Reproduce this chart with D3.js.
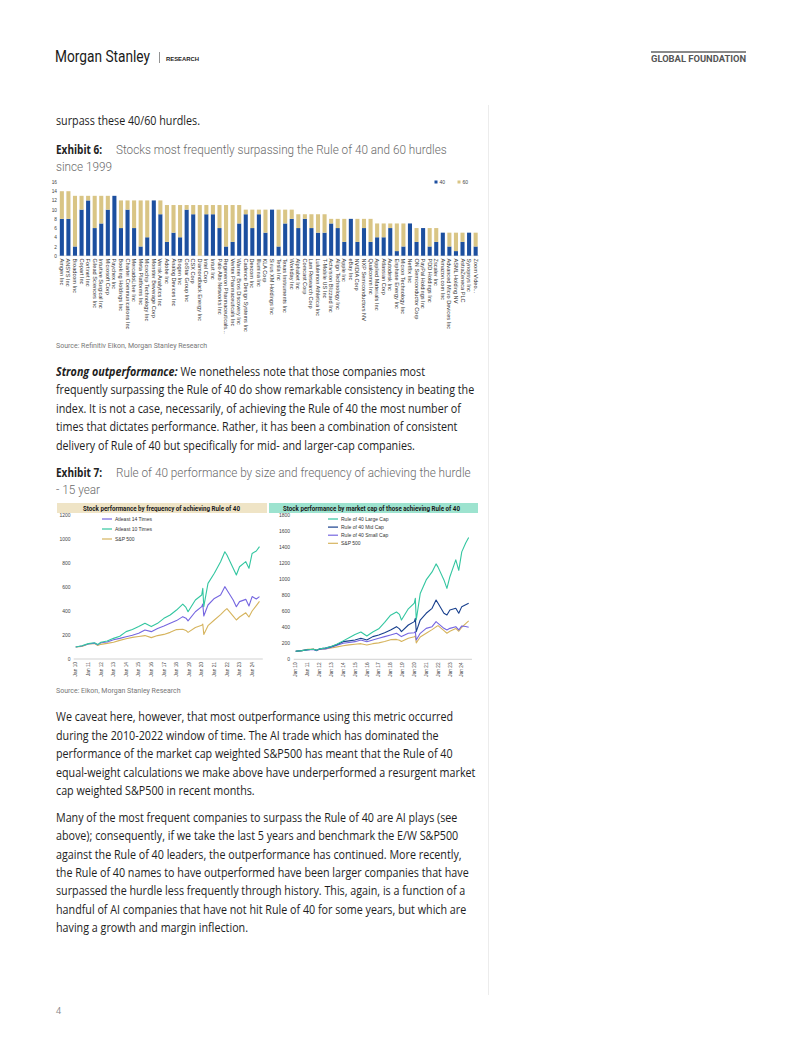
<!DOCTYPE html>
<html><head><meta charset="utf-8">
<script src="https://cdn.jsdelivr.net/npm/d3@7"></script>
<style>body{margin:0;background:#fff}svg{display:block}</style>
</head><body><svg id="c" width="802" height="1037"></svg>
<script>
// ---------- DATA ----------
const companies = ["Amgen Inc","ANSYS Inc","Broadcom Inc","Copart Inc","Fortinet Inc","Gilead Sciences Inc","Intuitive Surgical Inc","Microsoft Corp","Paychex Inc","Booking Holdings Inc","Charter Communications Inc","MercadoLibre Inc","Meta Platforms Inc","Microchip Technology Inc","Monster Beverage Corp","Verisk Analytics Inc","Adobe Inc","Analog Devices Inc","Biogen Inc","CoStar Group Inc","CSX Corp","Diamondback Energy Inc","Intel Corp","Intuit Inc","Palo Alto Networks Inc","Regeneron Pharmaceuticals...","Vertex Pharmaceuticals Inc","Warner Bros Discovery Inc","Cadence Design Systems Inc","Dexcom Inc","Illumina Inc","KLA Corp","Sirius XM Holdings Inc","Tesla Inc","Texas Instruments Inc","Workday Inc","Alphabet Inc","Comcast Corp","Lam Research Corp","Lululemon Athletica Inc","T-Mobile US Inc","Activision Blizzard Inc","Align Technology Inc","Apple Inc","eBay Inc","NVIDIA Corp","NXP Semiconductors NV","Qualcomm Inc","Applied Materials Inc","Atlassian Corp","Autodesk Inc","Enphase Energy Inc","Micron Technology Inc","Netflix Inc","ON Semiconductor Corp","PayPal Holdings Inc","PDD Holdings Inc","Zscaler Inc","Amazon.com Inc","Advanced Micro Devices Inc","ASML Holding NV","AstraZeneca PLC","Synopsys Inc","Zoom Video..."];
const rule40 = [8,8,2,10,12,6,7,10,13,6,10,6,2,4,12,9,3,5,4,10,9,0,9,9,6,2,3,7,9,6,9,5,10,2,7,8,6,8,6,5,5,7,6,3,8,3,6,3,4,4,6,1,2,7,3,6,2,3,5,2,1,3,5,2];
const rule60 = [6,6,11,3,1,7,6,3,0,6,2,6,10,8,0,3,8,6,7,1,2,11,2,2,5,9,8,4,1,4,1,5,0,8,3,2,3,1,3,4,4,1,2,5,0,5,2,5,3,3,1,6,5,0,3,0,4,3,0,3,4,2,0,3];
const barTicks = [0,2,4,6,8,10,12,14,16];

const dates = ["2010-01","2010-07","2011-01","2011-07","2011-10","2012-01","2012-07","2013-01","2013-07","2014-01","2014-07","2015-01","2015-07","2016-01","2016-07","2017-01","2017-07","2018-01","2018-07","2018-10","2018-12","2019-07","2020-01","2020-02","2020-03","2020-07","2021-01","2021-07","2021-11","2022-01","2022-07","2022-10","2023-01","2023-07","2023-10","2024-01","2024-05","2024-08"];
const sp500 = [100,105,125,128,112,122,130,140,155,168,180,188,195,178,195,205,222,245,248,238,222,262,282,290,205,278,325,370,405,420,358,325,350,385,350,400,445,480];
const atleast14 = [100,108,125,132,118,135,142,160,172,186,198,214,242,228,255,275,297,320,353,340,318,394,436,458,358,450,505,533,603,575,492,436,478,497,442,520,500,520];
const atleast10 = [100,110,128,135,120,140,150,172,190,228,245,270,297,270,297,339,367,408,458,430,394,492,533,589,436,630,714,811,894,867,756,700,769,811,756,880,900,936];
const largeCap = [100,108,120,125,112,130,140,160,190,230,270,310,340,290,340,380,460,550,590,560,490,630,700,760,490,820,990,1090,1190,1150,990,885,1030,1240,1110,1340,1450,1520];
const midCap = [100,108,120,125,112,130,140,158,185,220,230,241,262,241,283,303,332,366,407,380,345,428,470,511,345,490,574,636,740,698,574,553,615,636,574,657,680,698];
const smallCap = [100,106,118,122,108,125,130,150,175,200,210,220,241,220,241,262,283,303,324,300,283,324,332,345,241,324,386,407,470,449,386,366,386,407,366,416,410,400];
const leftTicks = [0,200,400,600,800,1000,1200];
const rightTicks = [0,200,400,600,800,1000,1200,1400,1600,1800];

// ---------- PAGE ----------
const svg = d3.select("#c");
svg.append("rect").attr("width",802).attr("height",1037).attr("fill","#fff");

// header
svg.append("text").attr("x",55).attr("y",62).text("Morgan Stanley")
  .attr("font-family","'Liberation Sans Narrow','Roboto',sans-serif").attr("font-size",16).attr("fill","#1a1a1a")
  .attr("textLength",95).attr("lengthAdjust","spacingAndGlyphs");
svg.append("line").attr("x1",159.5).attr("x2",159.5).attr("y1",52).attr("y2",63).attr("stroke","#777").attr("stroke-width",0.8);
svg.append("text").attr("x",166).attr("y",60.5).text("RESEARCH")
  .attr("font-family","'Liberation Sans',sans-serif").attr("font-weight",700).attr("font-size",5.6).attr("fill","#222")
  .attr("textLength",33).attr("lengthAdjust","spacingAndGlyphs");
svg.append("line").attr("x1",651).attr("x2",746).attr("y1",52).attr("y2",52).attr("stroke","#8a8a8a").attr("stroke-width",2);
svg.append("text").attr("x",746).attr("y",62).attr("text-anchor","end").text("GLOBAL FOUNDATION")
  .attr("font-family","'Liberation Sans Narrow','Roboto',sans-serif").attr("font-weight",700).attr("font-size",9.5).attr("fill","#555")
  .attr("textLength",95).attr("lengthAdjust","spacingAndGlyphs");
// divider
svg.append("line").attr("x1",488.5).attr("x2",488.5).attr("y1",105).attr("y2",995).attr("stroke","#ececec").attr("stroke-width",1);
// page number
svg.append("text").attr("x",56).attr("y",1014).text("4").attr("font-family","'Open Sans',sans-serif").attr("font-size",9).attr("fill","#888");

// body text
const BODY_FONT = "'Open Sans',sans-serif";
const bodyNodes = [];
function bodyLine(x, y, parts){
  const t = svg.append("text").attr("font-family",BODY_FONT).attr("font-size",13).attr("fill","#1e1e1e");
  parts.forEach(p=>{
    const ts = t.append("tspan").text(p[0]);
    if(p[1]==="bi") ts.attr("font-weight",700).attr("font-style","italic");
    if(p[1]==="b") ts.attr("font-weight",700);
  });
  bodyNodes.push({t,x,y});
  return t;
}
bodyLine(56,125,[["surpass these 40/60 hurdles."]]);
const strongLines = [
  [["Strong outperformance:","bi"],[" We nonetheless note that those companies most"]],
  [["frequently surpassing the Rule of 40 do show remarkable consistency in beating the"]],
  [["index. It is not a case, necessarily, of achieving the Rule of 40 the most number of"]],
  [["times that dictates performance. Rather, it has been a combination of consistent"]],
  [["delivery of Rule of 40 but specifically for mid- and larger-cap companies."]]
];
let refNode;
strongLines.forEach((l,i)=>{ const t = bodyLine(56, 376+i*18.4, l); if(i===1) refNode=t; });
const p1 = ["We caveat here, however, that most outperformance using this metric occurred",
"during the 2010-2022 window of time. The AI trade which has dominated the",
"performance of the market cap weighted S&P500 has meant that the Rule of 40",
"equal-weight calculations we make above have underperformed a resurgent market",
"cap weighted S&P500 in recent months."];
p1.forEach((s,i)=>bodyLine(56, 721+i*18.5, [[s]]));
const p2 = ["Many of the most frequent companies to surpass the Rule of 40 are AI plays (see",
"above); consequently, if we take the last 5 years and benchmark the E/W S&P500",
"against the Rule of 40 leaders, the outperformance has continued. More recently,",
"the Rule of 40 names to have outperformed have been larger companies that have",
"surpassed the hurdle less frequently through history. This, again, is a function of a",
"handful of AI companies that have not hit Rule of 40 for some years, but which are",
"having a growth and margin inflection."];
p2.forEach((s,i)=>bodyLine(56, 822+i*18.35, [[s]]));
const kBody = 419 / refNode.node().getComputedTextLength();
bodyNodes.forEach(d=>d.t.attr("transform",`translate(${d.x},${d.y}) scale(${kBody},1)`));

// exhibit captions
function exhibit(y, label, line1, w1, line2){
  svg.append("text").attr("x",56).attr("y",y).text(label).attr("font-family",BODY_FONT).attr("font-weight",700)
    .attr("font-size",12.5).attr("fill","#222").attr("textLength",46).attr("lengthAdjust","spacingAndGlyphs");
  const t1 = svg.append("text").text(line1).attr("font-family","Roboto,sans-serif").attr("font-weight",300)
    .attr("font-size",13).attr("fill","#6a6a6a");
  const k = w1 / t1.node().getComputedTextLength();
  t1.attr("transform",`translate(116,${y}) scale(${k},1)`);
  svg.append("text").text(line2).attr("font-family","Roboto,sans-serif").attr("font-weight",300)
    .attr("font-size",13).attr("fill","#6a6a6a").attr("transform",`translate(56,${y+17}) scale(${k},1)`);
}
exhibit(153.5,"Exhibit 6:","Stocks most frequently surpassing the Rule of 40 and 60 hurdles",331,"since 1999");
exhibit(477,"Exhibit 7:","Rule of 40 performance by size and frequency of achieving the hurdle",355,"- 15 year");

function source(y, s){
  svg.append("text").attr("x",56).attr("y",y).text(s).attr("font-family","Roboto,sans-serif")
    .attr("font-size",7).attr("fill","#777");
}
source(347.5,"Source: Refinitiv Eikon, Morgan Stanley Research");
source(692.5,"Source: Eikon, Morgan Stanley Research");

// ---------- BAR CHART ----------
const BLUE = "#1c4f9f", GOLD = "#d9c585";
const xb = d3.scaleBand().domain(companies).range([58.5, 479]).paddingInner(0.38).paddingOuter(0.2);
const yb = d3.scaleLinear().domain([0,16]).range([255.7,182]);
const bg = svg.append("g");
bg.append("g").attr("transform","translate(57,0)")
  .call(d3.axisLeft(yb).tickValues(barTicks).tickSize(0).tickPadding(0))
  .call(g=>g.select(".domain").remove())
  .call(g=>g.selectAll("text").attr("font-family","'Liberation Sans',Arial,sans-serif").attr("font-size",4.8).attr("fill","#444"));
bg.append("line").attr("x1",58.5).attr("x2",479).attr("y1",yb(0)).attr("y2",yb(0)).attr("stroke","#cfcfcf").attr("stroke-width",0.5);
bg.selectAll("rect.b40").data(companies).join("rect").attr("class","b40")
  .attr("x",d=>xb(d)).attr("width",xb.bandwidth())
  .attr("y",(d,i)=>yb(rule40[i])).attr("height",(d,i)=>yb(0)-yb(rule40[i])).attr("fill",BLUE);
bg.selectAll("rect.b60").data(companies).join("rect").attr("class","b60")
  .attr("x",d=>xb(d)).attr("width",xb.bandwidth())
  .attr("y",(d,i)=>yb(rule40[i]+rule60[i])).attr("height",(d,i)=>yb(rule40[i])-yb(rule40[i]+rule60[i])).attr("fill",GOLD);
bg.selectAll("text.cat").data(companies).join("text").attr("class","cat")
  .attr("transform",d=>`translate(${xb(d)+xb.bandwidth()/2},258.5) rotate(90)`)
  .attr("dy","0.35em").text(d=>d)
  .attr("font-family","'Liberation Sans',Arial,sans-serif").attr("font-size",5.6).attr("fill","#333");
// legend
[["40",BLUE,434.5],["60",GOLD,457.5]].forEach(([t,c,x])=>{
  bg.append("rect").attr("x",x).attr("y",180.5).attr("width",3).attr("height",3).attr("fill",c);
  bg.append("text").attr("x",x+5).attr("y",183.8).text(t).attr("font-family","'Liberation Sans',Arial,sans-serif")
    .attr("font-size",5).attr("fill","#444");
});

// ---------- LINE CHARTS ----------
const parse = d3.timeParse("%Y-%m");
const tDates = dates.map(parse);
const xDomain = [new Date(2010,0,1), new Date(2024,7,10)];
const TEAL="#33c6a0", PURPLE="#7566e0", NAVY="#173f8d", TAN="#d6b45e";

function lineChart(cfg){
  const g = svg.append("g");
  g.append("rect").attr("x",cfg.box[0]).attr("y",503).attr("width",cfg.box[1]-cfg.box[0]).attr("height",10).attr("fill",cfg.boxFill);
  g.append("text").attr("x",cfg.titleX).attr("y",510.6).text(cfg.title)
    .attr("font-family","'Liberation Sans Narrow','Roboto',sans-serif").attr("font-weight",700).attr("font-size",7.4).attr("fill","#1a1a1a")
    .attr("textLength",cfg.titleW).attr("lengthAdjust","spacingAndGlyphs");
  const x = d3.scaleTime().domain(xDomain).range(cfg.xr);
  const y = d3.scaleLinear().domain([0,cfg.ymax]).range([cfg.y0,515]);
  g.append("g").attr("transform",`translate(${cfg.yLabX},0)`)
    .call(d3.axisLeft(y).tickValues(cfg.ticks).tickFormat(d3.format("d")).tickSize(0).tickPadding(0))
    .call(a=>a.select(".domain").remove())
    .call(a=>a.selectAll("text").attr("font-family","'Liberation Sans',Arial,sans-serif").attr("font-size",5).attr("fill","#444"));
  g.append("line").attr("x1",cfg.xr[0]-2).attr("x2",cfg.xr[1]+3).attr("y1",cfg.y0).attr("y2",cfg.y0).attr("stroke","#bdbdbd").attr("stroke-width",0.7);
  const years = d3.timeYear.range(new Date(2010,0,1), new Date(2024,1,1));
  g.selectAll("text.xl").data(years).join("text").attr("class","xl")
    .attr("transform",d=>`translate(${x(d)},${cfg.y0+3}) rotate(-90)`).attr("text-anchor","end").attr("dy","0.35em")
    .text(d3.timeFormat("%b %y")).attr("font-family","'Liberation Sans',Arial,sans-serif").attr("font-size",4.8).attr("fill","#444");
  const line = d3.line().x((d,i)=>x(tDates[i])).y(d=>y(d));
  cfg.series.forEach(s=>{
    g.append("path").attr("d",line(s.v)).attr("fill","none").attr("stroke",s.c).attr("stroke-width",1.1).attr("stroke-linejoin","round");
  });
  cfg.legend.forEach((s,i)=>{
    const ly = cfg.legY + i*cfg.legDy;
    g.append("line").attr("x1",cfg.legX).attr("x2",cfg.legX+10).attr("y1",ly).attr("y2",ly).attr("stroke",s.c).attr("stroke-width",1.2);
    g.append("text").attr("x",cfg.legX+13).attr("y",ly).attr("dy","0.35em").text(s.n)
      .attr("font-family","'Liberation Sans',Arial,sans-serif").attr("font-size",5).attr("fill","#333");
  });
}
lineChart({
  box:[57,267], boxFill:"#efe4c6", title:"Stock performance by frequency of achieving Rule of 40", titleX:83, titleW:157,
  xr:[75.7, 75.7+14.61*12.6], ymax:1200, y0:659, ticks:leftTicks, yLabX:70.5,
  series:[{v:sp500,c:TAN},{v:atleast14,c:PURPLE},{v:atleast10,c:TEAL}],
  legend:[{n:"Atleast 14 Times",c:PURPLE},{n:"Atleast 10 Times",c:TEAL},{n:"S&P 500",c:TAN}],
  legX:102, legY:519, legDy:10
});
lineChart({
  box:[269,478], boxFill:"#9de3cf", title:"Stock performance by market cap of those achieving Rule of 40", titleX:283, titleW:177,
  xr:[295.7, 295.7+14.61*11.86], ymax:1800, y0:659.3, ticks:rightTicks, yLabX:290,
  series:[{v:sp500,c:TAN},{v:smallCap,c:PURPLE},{v:midCap,c:NAVY},{v:largeCap,c:TEAL}],
  legend:[{n:"Rule of 40 Large Cap",c:TEAL},{n:"Rule of 40 Mid Cap",c:NAVY},{n:"Rule of 40 Small Cap",c:PURPLE},{n:"S&P 500",c:TAN}],
  legX:328, legY:519, legDy:8.1
});
</script></body></html>
